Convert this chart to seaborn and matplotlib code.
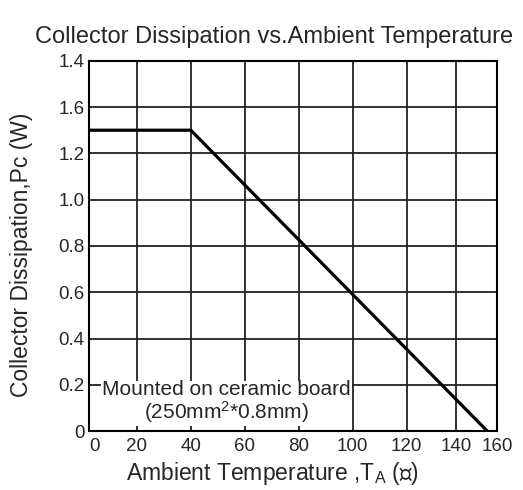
import numpy as np
import pandas as pd
import seaborn as sns
import matplotlib.pyplot as plt

# derating curve data
temps = [0, 40, 150]
power = [1.3, 1.3, 0.0]

# tick labels as printed on the sheet
x_tick_pos = [4.2, 20, 40, 60, 80, 100, 120, 138.5, 153.5]
x_tick_labels = ['0', '20', '40', '60', '80', '100', '120', '140', '160']
y_tick_pos = [0, 0.2, 0.4, 0.6, 0.8, 1.0, 1.2, 1.4, 1.6]
y_tick_labels = ['0', '0.2', '0.4', '0.6', '0.8', '1.0', '1.2', '1.6', '1.4']
x_grid = [20, 40, 60, 80, 100, 120, 138.5]
y_grid = [0.2, 0.4, 0.6, 0.8, 1.0, 1.2, 1.4]

sns.set_style("white")
plt.rcParams['font.family'] = ['Liberation Sans', 'DejaVu Sans']
plt.rcParams['mathtext.fontset'] = 'custom'
plt.rcParams['mathtext.rm'] = 'Liberation Sans'

df = pd.DataFrame({"temp": temps, "pc": power})

fig = plt.figure(figsize=(5.23, 4.9), dpi=100)
ax = fig.add_axes([0.170, 0.120, 0.780, 0.756])

# grid drawn by hand (sheet grid)
for gx in x_grid:
    ax.axvline(gx, color="#222222", linewidth=1.3, zorder=1)
for gy in y_grid:
    ax.axhline(gy, color="#222222", linewidth=1.3, zorder=1)

sns.lineplot(data=df, x="temp", y="pc", color="black", linewidth=2.3, ax=ax, zorder=5)

ax.set_xlim(2.2, 153.5)
ax.set_ylim(0, 1.6)

ax.set_xticks(x_tick_pos)
ax.set_xticklabels(x_tick_labels)
ax.set_yticks(y_tick_pos)
ax.set_yticklabels(y_tick_labels)
ax.tick_params(length=0, labelsize=13.5)
ax.tick_params(axis="x", pad=5)
ax.tick_params(axis="y", pad=3)

for s in ax.spines.values():
    s.set_color("black")
    s.set_linewidth(1.5)

ax.set_xlabel(r"Ambient Temperature ,$\mathregular{T_A}$ (℃)", fontsize=16.5)
ax.set_ylabel("Collector Dissipation,Pc (W)", fontsize=16.5)
ax.xaxis.set_label_coords(0.451, -0.078)
ax.yaxis.set_label_coords(-0.137, 0.475)
ax.set_title("Collector Dissipation vs.Ambient Temperature", fontsize=17, pad=13, x=0.455)

ax.text(53.3, 0.125, "Mounted on ceramic board\n" + r"(250mm$\mathregular{^2}$*0.8mm)",
        ha="center", va="center", fontsize=15, linespacing=1.0, zorder=4,
        bbox=dict(facecolor="white", edgecolor="none", pad=0.8))

fig.savefig("out.png", dpi=100)
